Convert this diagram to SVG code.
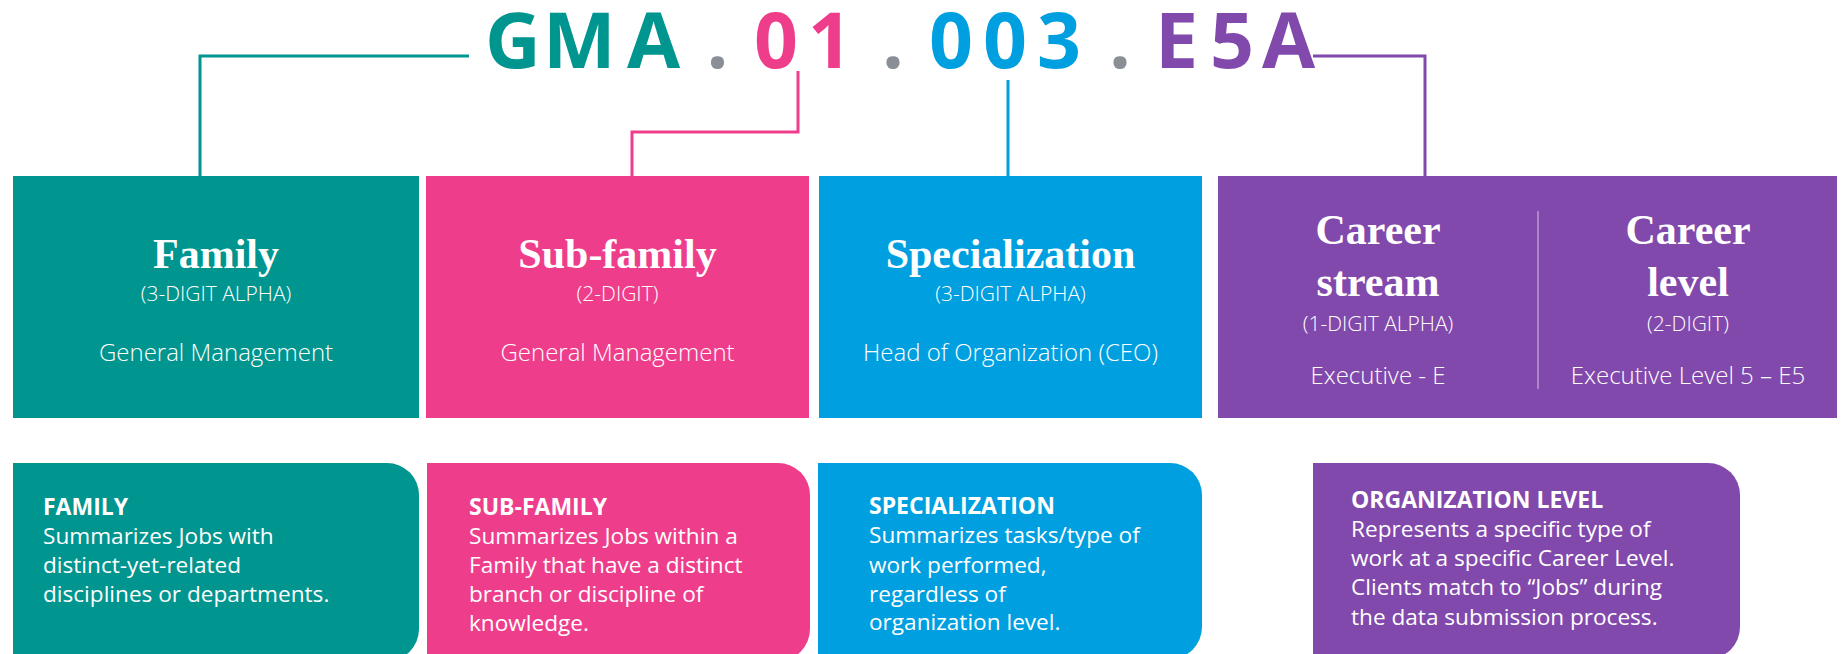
<svg xmlns="http://www.w3.org/2000/svg" width="1844" height="654" viewBox="0 0 1844 654">
  <style>
    .teal { fill: #00958F; }
    .pink { fill: #EE3E8B; }
    .blue { fill: #009FDF; }
    .purple { fill: #8249AC; }
    .grey { fill: #8A8F95; }
    .code { font-family: "Open Sans", "Liberation Sans", sans-serif; font-weight: 700; font-size: 77px; }
    .title { font-family: "Liberation Serif", serif; font-weight: 700; font-size: 42px; fill: #fff; text-anchor: middle; }
    .sub { font-family: "Open Sans", "Liberation Sans", sans-serif; font-weight: 300; font-size: 21px; fill: #fff; text-anchor: middle; }
    .item { font-family: "Open Sans", "Liberation Sans", sans-serif; font-weight: 300; font-size: 24px; fill: #fff; text-anchor: middle; }
    .head { font-family: "Open Sans", "Liberation Sans", sans-serif; font-weight: 700; font-size: 23px; fill: #fff; }
    .body { font-family: "Open Sans", "Liberation Sans", sans-serif; font-weight: 400; font-size: 22.6px; fill: #fff; }
    .wire { fill: none; stroke-width: 3; }
  </style>

  <!-- job code header -->
  <g id="code">
    <text class="code" y="68"><tspan class="teal" x="485 543 627">GMA</tspan><tspan class="grey" x="690 706.5 735"> . </tspan><tspan class="pink" x="754 808">01</tspan><tspan class="grey" x="865 882 910"> . </tspan><tspan class="blue" x="929 983 1037">003</tspan><tspan class="grey" x="1090 1109 1140"> . </tspan><tspan class="purple" x="1155 1210 1262">E5A</tspan></text>
  </g>

  <!-- connectors from code segments down to the boxes -->
  <g id="connectors">
    <path class="wire" stroke="#00958F" d="M469,56 H200 V176"/>
    <path class="wire" stroke="#EE3E8B" d="M798,71 V132 H632 V176"/>
    <path class="wire" stroke="#009FDF" d="M1008,80 V176"/>
    <path class="wire" stroke="#8249AC" d="M1313,56 H1425 V176"/>
  </g>

  <!-- top boxes -->
  <g id="family">
    <rect class="teal" x="13" y="176" width="406" height="242"/>
    <text class="title" x="216" y="268">Family</text>
    <text class="sub" x="216" y="301">(3-DIGIT ALPHA)</text>
    <text class="item" x="216" y="361">General Management</text>
  </g>
  <g id="sub-family">
    <rect class="pink" x="426" y="176" width="383" height="242"/>
    <text class="title" x="617.5" y="268">Sub-family</text>
    <text class="sub" x="617.5" y="301">(2-DIGIT)</text>
    <text class="item" x="617.5" y="361">General Management</text>
  </g>
  <g id="specialization">
    <rect class="blue" x="819" y="176" width="383" height="242"/>
    <text class="title" x="1010.5" y="268">Specialization</text>
    <text class="sub" x="1010.5" y="301">(3-DIGIT ALPHA)</text>
    <text class="item" x="1010.5" y="361">Head of Organization (CEO)</text>
  </g>
  <g id="career">
    <rect class="purple" x="1218" y="176" width="619" height="242"/>
    <line x1="1538" y1="211" x2="1538" y2="389" stroke="#FFFFFF" stroke-opacity="0.45" stroke-width="1.5"/>
    <text class="title" x="1378"><tspan x="1378" y="244">Career</tspan><tspan x="1378" y="296">stream</tspan></text>
    <text class="sub" x="1378" y="331">(1-DIGIT ALPHA)</text>
    <text class="item" x="1378" y="384">Executive - E</text>
    <text class="title" x="1688"><tspan x="1688" y="244">Career</tspan><tspan x="1688" y="296">level</tspan></text>
    <text class="sub" x="1688" y="331">(2-DIGIT)</text>
    <text class="item" x="1688" y="384">Executive Level 5 – E5</text>
  </g>

  <!-- description cards, right corners rounded -->
  <g id="family-note">
    <path class="teal" d="M13,463 H387 A32,32 0 0 1 419,495 V629 A32,32 0 0 1 387,661 H13 Z"/>
    <text class="head" x="43" y="515">FAMILY</text>
    <text class="body"><tspan x="43" y="544">Summarizes Jobs with</tspan><tspan x="43" y="573">distinct-yet-related</tspan><tspan x="43" y="602">disciplines or departments.</tspan></text>
  </g>
  <g id="sub-family-note">
    <path class="pink" d="M427,463 H778 A32,32 0 0 1 810,495 V629 A32,32 0 0 1 778,661 H427 Z"/>
    <text class="head" x="469" y="515">SUB-FAMILY</text>
    <text class="body"><tspan x="469" y="544">Summarizes Jobs within a</tspan><tspan x="469" y="573">Family that have a distinct</tspan><tspan x="469" y="602">branch or discipline of</tspan><tspan x="469" y="631">knowledge.</tspan></text>
  </g>
  <g id="specialization-note">
    <path class="blue" d="M818,463 H1170 A32,32 0 0 1 1202,495 V627 A32,32 0 0 1 1170,659 H818 Z"/>
    <text class="head" x="869" y="514">SPECIALIZATION</text>
    <text class="body"><tspan x="869" y="543">Summarizes tasks/type of</tspan><tspan x="869" y="573">work performed,</tspan><tspan x="869" y="602">regardless of</tspan><tspan x="869" y="630">organization level.</tspan></text>
  </g>
  <g id="organization-level-note">
    <path class="purple" d="M1313,463 H1708 A32,32 0 0 1 1740,495 V627 A32,32 0 0 1 1708,659 H1313 Z"/>
    <text class="head" x="1351" y="508">ORGANIZATION LEVEL</text>
    <text class="body"><tspan x="1351" y="537">Represents a specific type of</tspan><tspan x="1351" y="566">work at a specific Career Level.</tspan><tspan x="1351" y="595">Clients match to “Jobs” during</tspan><tspan x="1351" y="625">the data submission process.</tspan></text>
  </g>
</svg>
